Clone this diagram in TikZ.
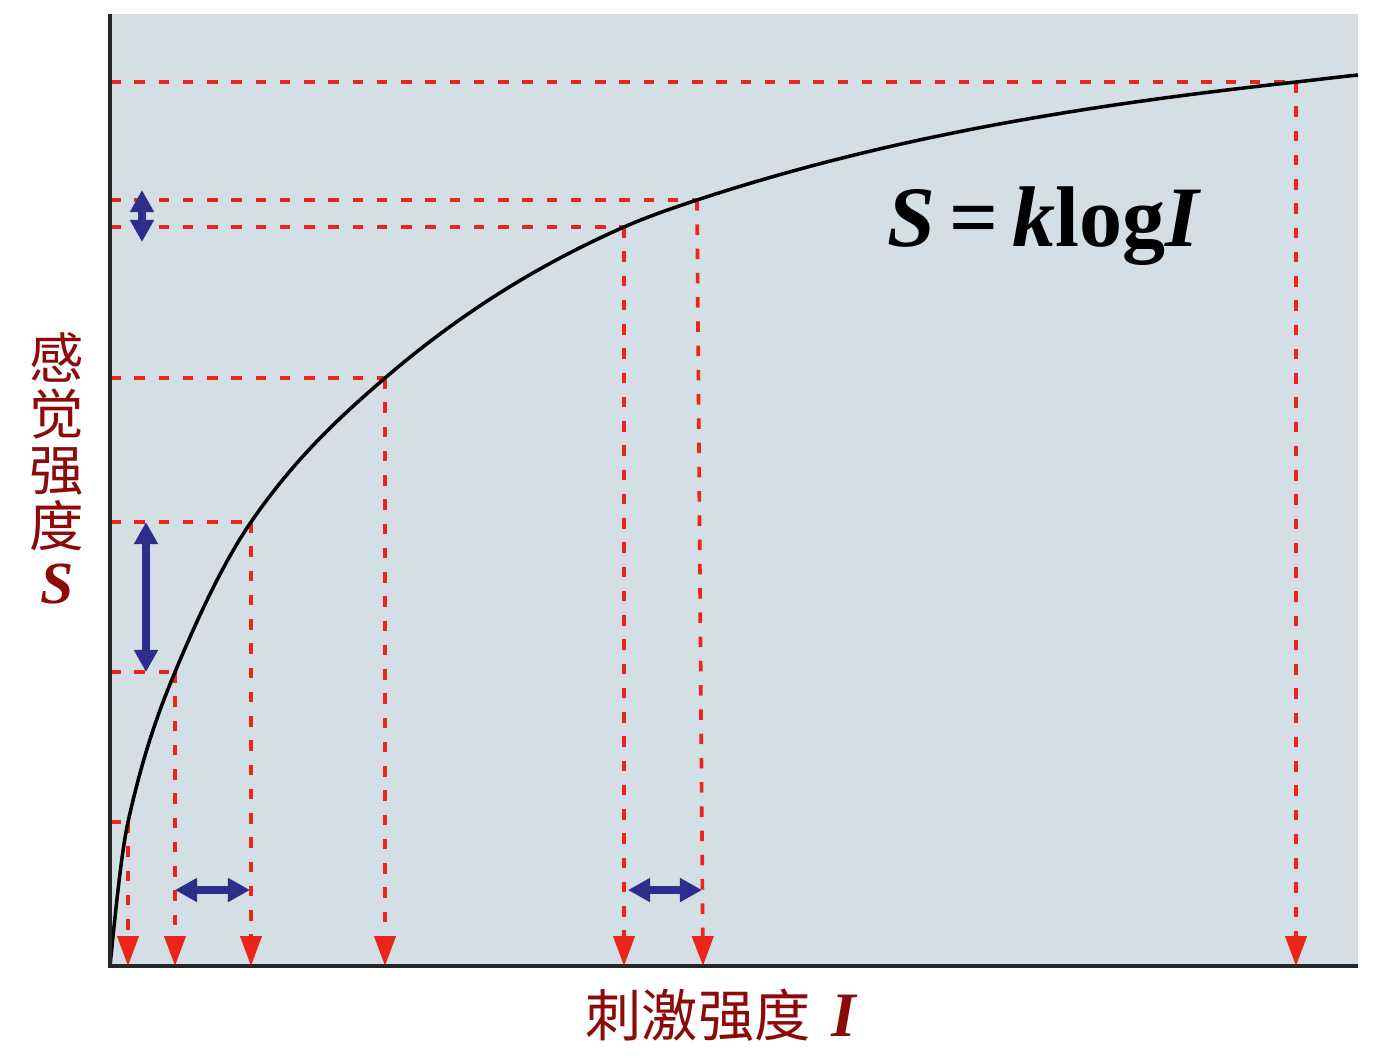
\documentclass[tikz,border=0pt]{standalone}
\usepackage{fontspec}
\setmainfont{Liberation Serif}
\newfontfamily\cjk{Noto Sans CJK SC}
\usetikzlibrary{arrows.meta}
\definecolor{bgblue}{RGB}{211,223,228}
\definecolor{dashred}{RGB}{234,38,28}
\definecolor{navy}{RGB}{43,46,138}
\definecolor{darkred}{RGB}{140,10,10}

\begin{document}
\begin{tikzpicture}[x=0.1mm,y=-0.1mm,
    guide/.style={dashred,line width=1.05pt,dash pattern=on 3pt off 3.9pt},
    drop/.style={guide,-{Triangle[width=6pt,length=8.5pt]}},
    gap/.style={navy,line width=2.2pt,{Triangle[width=6.5pt,length=6.3pt]}-{Triangle[width=6.5pt,length=6.3pt]}}]
  \useasboundingbox (0,0) rectangle (1385,1057);
  \fill[bgblue] (110,14) rectangle (1358,966);
  \coordinate (O) at (110,966);
  \coordinate (T) at (110,14);
  \coordinate (R) at (1358,966);
  \coordinate (Z) at (1358,75);
  % points on the curve, with their feet on the two axes
  \coordinate (A) at (128,822);
  \coordinate (AL) at (110,822);
  \coordinate (AB) at (128,966);
  \coordinate (B) at (175,672);
  \coordinate (BL) at (110,672);
  \coordinate (BB) at (175,966);
  \coordinate (C) at (251,522);
  \coordinate (CL) at (110,522);
  \coordinate (CB) at (251,966);
  \coordinate (D) at (385,378);
  \coordinate (DL) at (110,378);
  \coordinate (DB) at (385,966);
  \coordinate (E) at (624,227);
  \coordinate (EL) at (110,227);
  \coordinate (EB) at (624,966);
  \coordinate (F) at (697,200);
  \coordinate (FL) at (110,200);
  \coordinate (FB) at (703,966);
  \coordinate (G) at (1296,82);
  \coordinate (GL) at (110,82);
  \coordinate (GB) at (1296,966);
  \draw[guide] (AL)--(A);
  \draw[guide] (BL)--(B);
  \draw[guide] (CL)--(C);
  \draw[guide] (DL)--(D);
  \draw[guide] (EL)--(E);
  \draw[guide,line width=1.25pt] (FL)--(F);
  \draw[guide] (GL)--(G);
  \draw[drop] (A)--(AB);
  \draw[drop] (B)--(BB);
  \draw[drop] (C)--(CB);
  \draw[drop] (D)--(DB);
  \draw[drop] (E)--(EB);
  \draw[drop] (F)--(FB);
  \draw[drop] (G)--(GB);
  \draw[line width=1pt] (O) .. controls (116,906) and (122,849) .. (A)
    .. controls (143.67,751.5) and (159.33,709.6) .. (B)
    .. controls (200.33,611.2) and (225.67,558.73) .. (C)
    .. controls (295.67,457.23) and (340.33,416.41) .. (D)
    .. controls (464.67,309.49) and (544.33,262.05) .. (E)
    .. controls (648.33,216.29) and (672.67,208.03) .. (F)
    .. controls (896.67,134.11) and (1096.33,103.96) .. (G)
    .. controls (1316.67,79.73) and (1337.33,77.07) .. (Z);
  \draw[line width=0.9pt,black!85] (T)--(O)--(R);
  % the equal steps of S and of log I
  \coordinate (S1) at (142,190);
  \coordinate (S2) at (142,242);
  \coordinate (S3) at (146,522);
  \coordinate (S4) at (146,672);
  \coordinate (I1) at (175,890);
  \coordinate (I2) at (250,890);
  \coordinate (I3) at (628,890);
  \coordinate (I4) at (702,890);
  \draw[gap] (S1)--(S2);
  \draw[gap] (S3)--(S4);
  \draw[gap] (I1)--(I2);
  \draw[gap] (I3)--(I4);
  \node[anchor=base west,inner sep=0,font=\fontsize{24.5}{28}\selectfont\bfseries] (law) at (887,246) {\textit{S}\hspace{4pt}=\hspace{4pt}\textit{k}log\textit{I}};
  \node[darkred,align=center,inner sep=0,font=\cjk\fontsize{15.5}{16}\selectfont] (ylab) at (57,468) {感\\觉\\强\\度\\{\rmfamily\bfseries\itshape\fontsize{17}{17}\selectfont S}};
  \node[darkred,inner sep=0,font=\cjk\fontsize{16}{16}\selectfont] (xlab) at (721,1015) {刺激强度\hspace{6pt}{\rmfamily\bfseries\itshape\fontsize{18}{18}\selectfont I}};
\end{tikzpicture}
\end{document}
